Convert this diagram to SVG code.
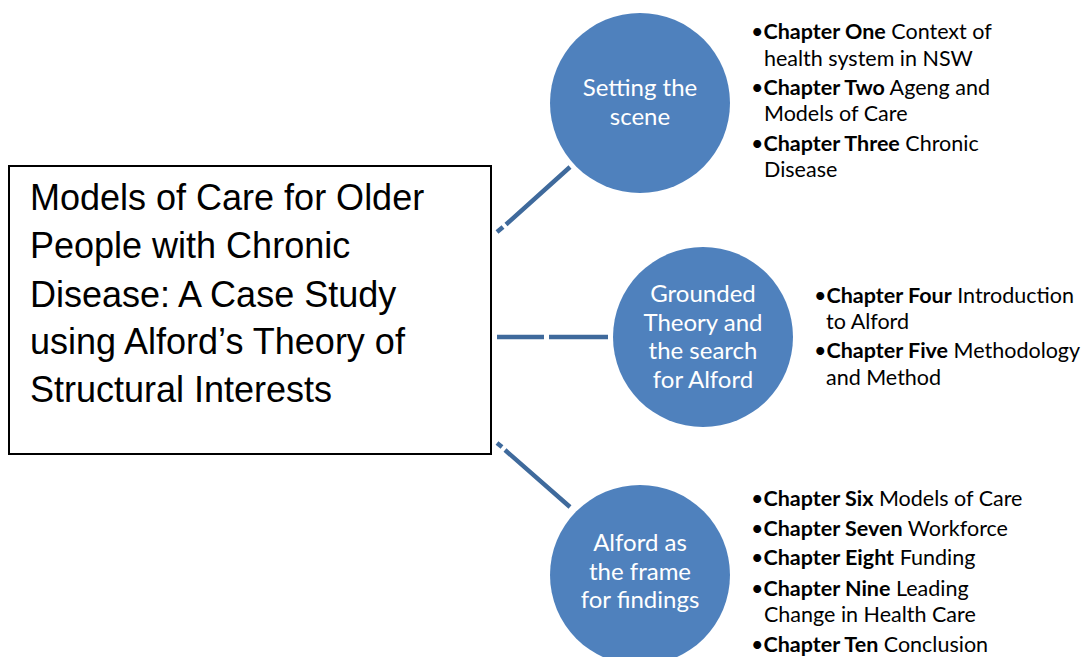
<svg xmlns="http://www.w3.org/2000/svg" width="1083" height="657" viewBox="0 0 1083 657">
<style>
.bg{fill:#ffffff}
.box{fill:#ffffff;stroke:#000000;stroke-width:2}
.title{font-family:"Liberation Sans",Arial,sans-serif;font-size:36px;fill:#000000}
.circ{fill:#4F81BD}
.ctext{font-family:Lato,"Open Sans",sans-serif;font-size:24px;fill:#ffffff;text-anchor:middle}
.list{font-family:Lato,"Open Sans",sans-serif;font-size:21.5px;fill:#000000}
.b{font-weight:bold}
.conn{stroke:#3F6A9C;stroke-width:4.5;fill:none;stroke-linecap:butt}
</style>
<rect class="bg" x="0" y="0" width="1083" height="657"/>
<g id="connectors">
<path class="conn" d="M497,232 L503,227 M506,224.5 L570,167"/>
<path class="conn" d="M497,337 L544,337 M549,337 L608,337"/>
<path class="conn" d="M497,443 L502,447 M505,450 L570,507"/>
</g>
<g id="title">
<rect class="box" x="9" y="166" width="482" height="288"/>
<text class="title" x="30" y="210">Models of Care for Older</text>
<text class="title" x="30" y="258">People with Chronic</text>
<text class="title" x="30" y="307">Disease: A Case Study</text>
<text class="title" x="30" y="354">using Alford’s Theory of</text>
<text class="title" x="30" y="402">Structural Interests</text>
</g>
<g id="setting">
<circle class="circ" cx="640" cy="103" r="90"/>
<text class="ctext" x="640" y="96">Setting the</text>
<text class="ctext" x="640" y="125">scene</text>
</g>
<g id="grounded">
<circle class="circ" cx="703" cy="337" r="90"/>
<text class="ctext" x="703" y="302">Grounded</text>
<text class="ctext" x="703" y="331">Theory and</text>
<text class="ctext" x="703" y="359">the search</text>
<text class="ctext" x="703" y="388">for Alford</text>
</g>
<g id="alford">
<circle class="circ" cx="640" cy="575" r="90"/>
<text class="ctext" x="640" y="551">Alford as</text>
<text class="ctext" x="640" y="580">the frame</text>
<text class="ctext" x="640" y="608">for findings</text>
</g>
<g id="list1">
<text class="list" x="751" y="39">•<tspan class="b">Chapter One</tspan> Context of</text>
<text class="list" x="764" y="66">health system in NSW</text>
<text class="list" x="751" y="95">•<tspan class="b">Chapter Two</tspan> Ageng and</text>
<text class="list" x="764" y="121">Models of Care</text>
<text class="list" x="751" y="151">•<tspan class="b">Chapter Three</tspan> Chronic</text>
<text class="list" x="764" y="177">Disease</text>
</g>
<g id="list2">
<text class="list" x="814" y="303">•<tspan class="b">Chapter Four</tspan> Introduction</text>
<text class="list" x="826" y="329">to Alford</text>
<text class="list" x="814" y="358">•<tspan class="b">Chapter Five</tspan> Methodology</text>
<text class="list" x="826" y="385">and Method</text>
</g>
<g id="list3">
<text class="list" x="751" y="506">•<tspan class="b">Chapter Six</tspan> Models of Care</text>
<text class="list" x="751" y="536">•<tspan class="b">Chapter Seven</tspan> Workforce</text>
<text class="list" x="751" y="565">•<tspan class="b">Chapter Eight</tspan> Funding</text>
<text class="list" x="751" y="596">•<tspan class="b">Chapter Nine</tspan> Leading</text>
<text class="list" x="764" y="622">Change in Health Care</text>
<text class="list" x="751" y="652">•<tspan class="b">Chapter Ten</tspan> Conclusion</text>
</g>
</svg>
